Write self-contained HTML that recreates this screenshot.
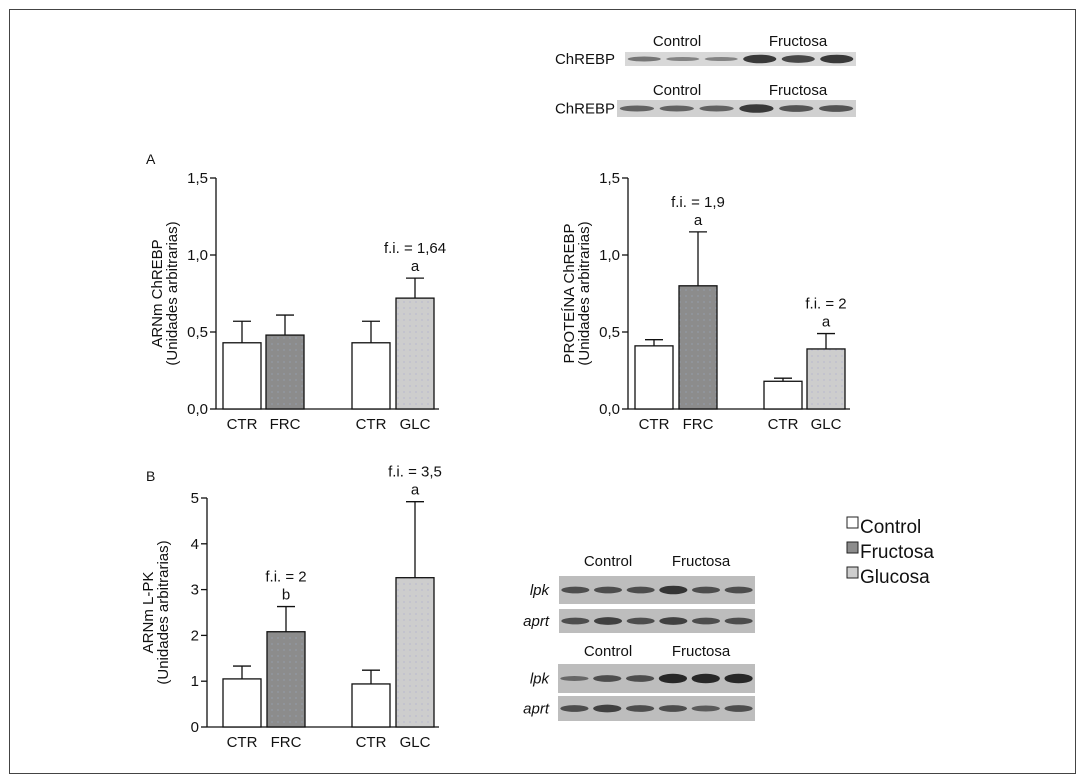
<!DOCTYPE html>
<html><head><meta charset="utf-8">
<style>
body{margin:0;background:#fff;font-family:"Liberation Sans",Arial,sans-serif;}
svg{display:block}
text{font-family:"Liberation Sans",Arial,sans-serif;fill:#111}
</style></head>
<body>
<svg id="fig" width="1085" height="780" viewBox="0 0 1085 780">
<defs>
<pattern id="dotF" width="6" height="6" patternUnits="userSpaceOnUse"><rect width="6" height="6" fill="#8c8c8c"/><circle cx="2" cy="2" r="0.6" fill="#9ab"/></pattern>
<pattern id="dotG" width="6" height="6" patternUnits="userSpaceOnUse"><rect width="6" height="6" fill="#cdcdcd"/><circle cx="2" cy="2" r="0.6" fill="#aac"/></pattern>
</defs>
<rect x="9.5" y="9.5" width="1066" height="764" fill="none" stroke="#444" stroke-width="1"/>
<g id="blots"></g>
<g id="charts"></g>
<g>
<rect x="847" y="517" width="11" height="11" fill="#fff" stroke="#222"/>
<text x="860" y="533" font-size="19">Control</text>
<rect x="847" y="542" width="11" height="11" fill="#8c8c8c" stroke="#222"/>
<text x="860" y="558" font-size="19">Fructosa</text>
<rect x="847" y="567" width="11" height="11" fill="#cdcdcd" stroke="#222"/>
<text x="860" y="583" font-size="19">Glucosa</text>
</g>
<text x="146" y="164" font-size="14">A</text>
<text x="146" y="481" font-size="14">B</text>
</svg>
<script>
const NS="http://www.w3.org/2000/svg";
function mk(t,a,p){const e=document.createElementNS(NS,t);for(const k in a)e.setAttribute(k,a[k]);p.appendChild(e);return e;}

// Chart data
const categories=["CTR","FRC","CTR","GLC"];
const a1Values=[0.43,0.48,0.43,0.72];
const a1Errors=[0.14,0.13,0.14,0.13];
const a2Values=[0.41,0.80,0.18,0.39];
const a2Errors=[0.04,0.35,0.02,0.10];
const bValues=[1.05,2.08,0.94,3.26];
const bErrors=[0.28,0.55,0.30,1.66];
const a1Ticks=["0,0","0,5","1,0","1,5"];
const a2Ticks=["0,0","0,5","1,0","1,5"];
const bTicks=["0","1","2","3","4","5"];
const a1Notes=[null,null,null,["f.i. = 1,64","a"]];
const a2Notes=[null,["f.i. = 1,9","a"],null,["f.i. = 2","a"]];
const bNotes=[null,["f.i. = 2","b"],null,["f.i. = 3,5","a"]];

const fills=["#fff","url(#dotF)","#fff","url(#dotG)"];
const root=document.getElementById('charts');

function chart(name,ax,y0,y1,max,ticks,vals,errs,notes,bx,ttl1,ttl2){
  const g=mk('g',{},root);
  
  
  const ys=v=>y0-(v/max)*(y0-y1);
  const ax1=mk('line',{x1:ax,y1:y1,x2:ax,y2:y0,stroke:'#111','stroke-width':1.3},g);
  
  
  const bl=mk('line',{x1:ax,y1:y0,x2:bx[3]+43,y2:y0,stroke:'#111','stroke-width':1.3},g);
  
  
  ticks.forEach((t,i)=>{
    const v=max*i/(ticks.length-1);const y=ys(v);
    mk('line',{x1:ax-6,y1:y,x2:ax,y2:y,stroke:'#111','stroke-width':1.3},g);
    const tx=mk('text',{x:ax-8,y:y+5,'font-size':15,'text-anchor':'end'},g);
    tx.textContent=t;
    
    
  });
  vals.forEach((v,i)=>{
    const x=bx[i],w=38,top=ys(v),et=ys(v+errs[i]);
    mk('line',{x1:x+w/2,y1:top,x2:x+w/2,y2:et,stroke:'#111','stroke-width':1.3},g);
    mk('line',{x1:x+w/2-9,y1:et,x2:x+w/2+9,y2:et,stroke:'#111','stroke-width':1.3},g);
    const r=mk('rect',{x:x,y:top,width:w,height:y0-top,fill:fills[i],stroke:'#111','stroke-width':1.3},g);
    
    
    const lb=mk('text',{x:x+w/2,y:y0+20,'font-size':15,'text-anchor':'middle'},g);
    lb.textContent=categories[i];
    
    
    if(notes[i]){
      const n1=mk('text',{x:x+w/2,y:et-25,'font-size':15,'text-anchor':'middle'},g);
      n1.textContent=notes[i][0];
      
      
      const n2=mk('text',{x:x+w/2,y:et-7,'font-size':15,'text-anchor':'middle'},g);
      n2.textContent=notes[i][1];
      
      
    }
  });
  const cy=(y0+y1)/2;
  const t1=mk('text',{x:0,y:0,'font-size':15,'text-anchor':'middle',transform:`translate(${ax-54},${cy}) rotate(-90)`},g);
  t1.textContent=ttl1;
  
  
  const t2=mk('text',{x:0,y:0,'font-size':15,'text-anchor':'middle',transform:`translate(${ax-39},${cy}) rotate(-90)`},g);
  t2.textContent=ttl2;
  
  
}
chart('chart-arnm-chrebp',216,409,178,1.5,a1Ticks,a1Values,a1Errors,a1Notes,[223,266,352,396],'ARNm ChREBP','(Unidades arbitrarias)');
chart('chart-proteina-chrebp',628,409,178,1.5,a2Ticks,a2Values,a2Errors,a2Notes,[635,679,764,807],'PROTEÍNA ChREBP','(Unidades arbitrarias)');
chart('chart-arnm-lpk',207,727,498,5,bTicks,bValues,bErrors,bNotes,[223,267,352,396],'ARNm L-PK','(Unidades arbitrarias)');

// Blots
const bg=document.getElementById('blots');
function blot(name,x,y,w,h,label,labelX,italic,intens,bg1){
  const g=mk('g',{},bg);
  
  
  mk('rect',{x:x,y:y,width:w,height:h,fill:bg1},g);
  const lane=w/6;
  intens.forEach((k,i)=>{
    const cx=x+lane*i+lane/2;
    mk('ellipse',{cx:cx,cy:y+h/2,rx:lane*0.43,ry:1.6+k*0.9,fill:'#111',opacity:0.35+k*0.15},g);
  });
  const t=mk('text',{x:labelX,y:y+h/2+5,'font-size':15,'text-anchor':'end','font-style':italic?'italic':'normal'},g);
  t.textContent=label;
  
  
}
function hdr(x1,x2,y){
  const a=mk('text',{x:x1,y:y,'font-size':15,'text-anchor':'middle'},bg);a.textContent='Control';
  
  
  const b=mk('text',{x:x2,y:y,'font-size':15,'text-anchor':'middle'},bg);b.textContent='Fructosa';
  
  
}
hdr(677,798,46);
blot('chrebp-blot-1',625,52,231,14,'ChREBP',615,false,[1,0.5,0.5,3,2.5,3],'#d8d8d8');
hdr(677,798,95);
blot('chrebp-blot-2',617,100,239,17,'ChREBP',615,false,[1.5,1.5,1.5,3,2,2],'#d0d0d0');
hdr(608,701,566);
blot('lpk-blot-1',559,576,196,28,'lpk',549,true,[2,2,2,3,2,2],'#bdbdbd');
blot('aprt-blot-1',559,609,196,24,'aprt',549,true,[2,2.5,2,2.5,2,2],'#bdbdbd');
hdr(608,701,656);
blot('lpk-blot-2',558,664,197,29,'lpk',549,true,[1,2,2,3.5,3.5,3.5],'#bdbdbd');
blot('aprt-blot-2',558,696,197,25,'aprt',549,true,[2,2.5,2,2,1.5,2],'#bdbdbd');
</script>
</body></html>
